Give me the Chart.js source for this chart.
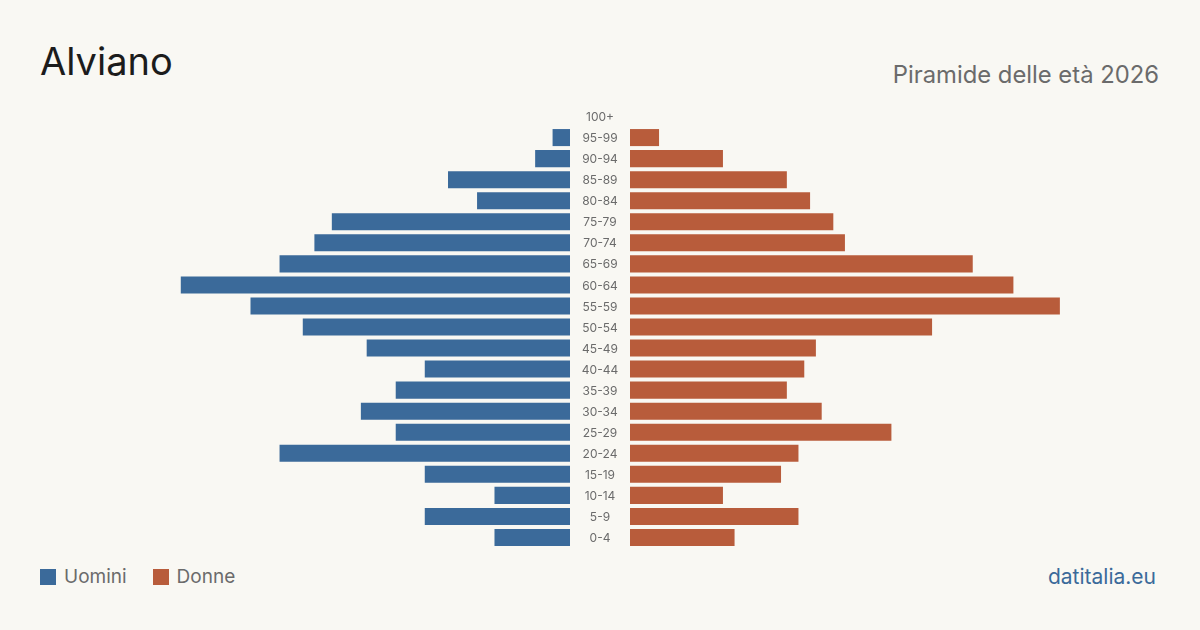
<!DOCTYPE html>
<html>
<head>
<meta charset="utf-8">
<script src="https://cdn.jsdelivr.net/npm/chart.js@4.4.1/dist/chart.umd.min.js"></script>
<style>
  html, body { margin: 0; padding: 0; }
  body {
    width: 1200px; height: 630px; background: #f9f8f3;
    font-family: Inter, "Noto Sans", sans-serif; position: relative; overflow: hidden;
  }
  #title { position: absolute; left: 40px; top: 42px; font-size: 38px; color: #1c1c1c; line-height: 1; }
  #subtitle { position: absolute; right: 41px; top: 63px; font-size: 23.8px; color: #6b6b6b; line-height: 1; }
  #wrap { position: absolute; left: 40px; top: 105.5px; width: 1120px; height: 442px; }
  #legend { position: absolute; left: 40px; top: 565px; font-size: 19px; color: #6b6b6b; display: flex; align-items: center; }
  .sw { width: 16px; height: 16px; display: inline-block; margin-right: 8px; }
  .item { display: flex; align-items: center; margin-right: 26px; }
  #source { position: absolute; right: 44px; top: 564px; font-size: 21px; color: #3b6a9a; }
</style>
</head>
<body>
<div id="title">Alviano</div>
<div id="subtitle">Piramide delle età 2026</div>
<div id="wrap"><canvas id="pyramid"></canvas></div>
<div id="legend">
  <span class="item"><span class="sw" style="background:#3b6a9a"></span>Uomini</span>
  <span class="item"><span class="sw" style="background:#b85c3b"></span>Donne</span>
</div>
<div id="source">datitalia.eu</div>

<script>
// classi di età, dall'alto verso il basso
const ages = ['100+', '95-99', '90-94', '85-89', '80-84', '75-79', '70-74', '65-69', '60-64', '55-59',
  '50-54', '45-49', '40-44', '35-39', '30-34', '25-29', '20-24', '15-19', '10-14', '5-9', '0-4'];
const uomini = [0, 3, 6, 21, 16, 41, 44, 50, 67, 55, 46, 35, 25, 30, 36, 30, 50, 25, 13, 25, 13];
const donne  = [0, 5, 16, 27, 31, 35, 37, 59, 66, 74, 52, 32, 30, 27, 33, 45, 29, 26, 16, 29, 18];

const blu = '#3b6a9a';
const rosso = '#b85c3b';

// asse simmetrico, con uno spazio centrale per le etichette
const maxVal = 96.4;
const gap = maxVal * 30 / 560;

const ctx = document.getElementById('pyramid').getContext('2d');

// disegna le etichette delle età nella colonna centrale
const centerLabels = {
  id: 'centerLabels',
  afterDatasetsDraw(chart) {
    const c = chart.ctx;
    const x = chart.scales.x.getPixelForValue(0);
    c.save();
    c.font = '12px Inter, "Noto Sans", sans-serif';
    c.fillStyle = '#6b6b6b';
    c.textAlign = 'center';
    c.textBaseline = 'middle';
    ages.forEach((a, i) => {
      c.fillText(a, x, chart.scales.y.getPixelForValue(i) + 1);
    });
    c.restore();
  }
};

new Chart(ctx, {
  type: 'bar',
  data: {
    labels: ages,
    datasets: [{
      label: 'Uomini',
      data: uomini.map(v => [-gap - v, -gap]),
      backgroundColor: blu,
      grouped: false
    }, {
      label: 'Donne',
      data: donne.map(v => [gap, gap + v]),
      backgroundColor: rosso,
      grouped: false
    }]
  },
  options: {
    indexAxis: 'y',
    responsive: true,
    maintainAspectRatio: false,
    animation: false,
    layout: { padding: 0 },
    categoryPercentage: 1,
    barPercentage: 0.81,
    scales: {
      x: { display: false, min: -maxVal, max: maxVal },
      y: { display: false }
    },
    plugins: {
      legend: { display: false },
      tooltip: { enabled: false }
    }
  },
  plugins: [centerLabels]
});
</script>
</body>
</html>
